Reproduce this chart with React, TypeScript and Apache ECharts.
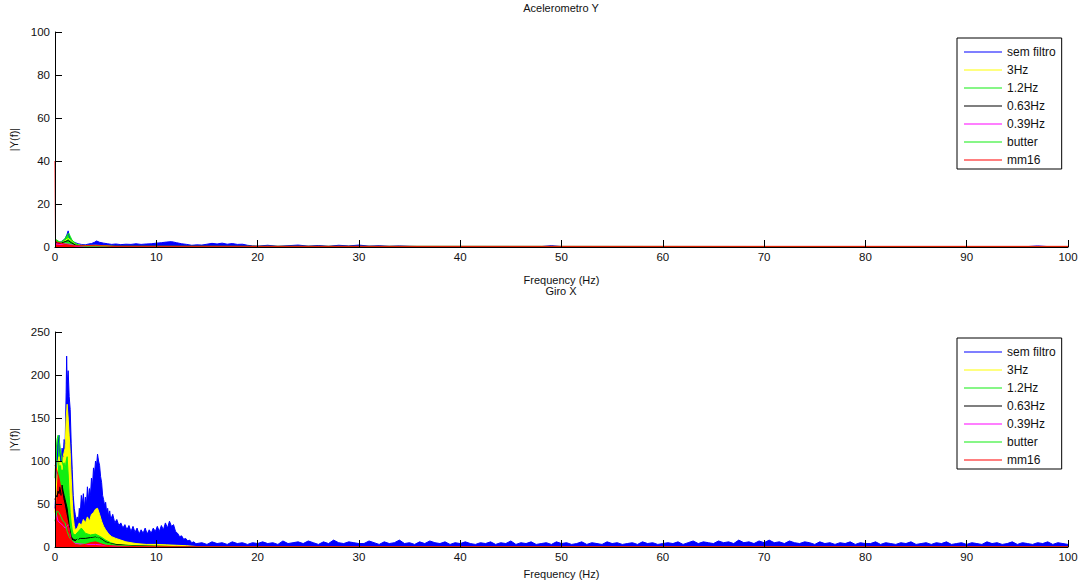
import React, { useEffect, useRef } from "react";
import * as echarts from "echarts";

type Pt = [number, number];

const seriesNames = ["sem filtro", "3Hz", "1.2Hz", "0.63Hz", "0.39Hz", "butter", "mm16"];
const seriesColors = ["#0000ff", "#ffff00", "#11ee11", "#000000", "#ff00ff", "#11ee11", "#ff0000"];

// ---------- Acelerometro Y ----------
const accBlue: Pt[] = [
  [0, 3], [0.2, 2.5], [0.4, 2], [0.6, 2.5], [0.8, 3], [1.0, 4], [1.1, 5], [1.2, 6], [1.3, 7.5], [1.4, 5],
  [1.5, 4], [1.6, 3.5], [1.8, 2.5], [2.0, 2], [2.3, 1.5], [2.6, 1.2], [3, 1], [3.3, 1.4], [3.6, 1.6], [3.9, 2.2],
  [4.1, 2.8], [4.4, 2.2], [4.8, 1.8], [5.2, 1.5], [5.6, 1.2], [6, 1.4], [6.5, 1.1], [7, 1.3], [7.5, 1.2], [8, 1.5],
  [8.5, 1.2], [9, 1.4], [9.5, 1.5], [10, 1.8], [10.5, 2], [11, 2.3], [11.5, 2.5], [12, 2], [12.5, 1.5], [13, 1.2],
  [13.5, 0.8], [14, 1], [14.5, 0.9], [15, 1.3], [15.5, 1.7], [16, 1.4], [16.5, 1.8], [17, 1.3], [17.5, 1.6], [18, 1.2],
  [18.5, 1.3], [19, 0.8], [19.5, 0.5], [20, 0.4], [21, 0.8], [22, 0.3], [23, 0.6], [24, 0.9], [25, 0.4], [26, 0.7],
  [27, 0.3], [28, 0.8], [29, 0.5], [30, 0.9], [31, 0.4], [32, 0.6], [33, 0.3], [34, 0.5], [35, 0.3], [36, 0.2],
  [48, 0.2], [49, 0.6], [50, 0.2], [96, 0.2], [97, 0.5], [98, 0.2], [100, 0.2],
];
const acc3Hz: Pt[] = [
  [0, 2.5], [0.5, 2], [1.0, 3], [1.3, 4], [1.6, 3], [2, 1.5], [2.5, 0.8], [3, 0.7], [4, 0.8], [5, 0.6], [5.5, 0.4], [6, 0.2], [100, 0.2],
];
const acc12Hz: Pt[] = [
  [0, 3.5], [0.2, 3.2], [0.4, 2.5], [0.6, 2.2], [0.8, 3], [1.0, 4], [1.2, 5.5], [1.35, 6.5], [1.5, 5], [1.7, 3],
  [2, 1.8], [2.3, 1], [2.6, 0.5], [3, 0.3], [100, 0.2],
];
const acc063Hz: Pt[] = [[0, 2], [0.5, 1.8], [1, 2.5], [1.3, 3], [1.6, 2], [2, 1], [2.5, 0.5], [3, 0.3], [100, 0.2]];
const acc039Hz: Pt[] = [[0, 1.5], [0.5, 1.2], [1, 1.5], [1.5, 1.2], [2, 0.5], [3, 0.2], [100, 0.2]];
const accButter: Pt[] = [[0, 3], [0.3, 2.5], [0.6, 2], [1, 3.5], [1.3, 4.5], [1.6, 3.5], [2, 1.5], [2.5, 0.6], [3, 0.3], [100, 0.2]];
const accMm16: Pt[] = [
  [0, 40], [0.05, 3], [0.2, 2.2], [0.4, 2], [0.6, 1.8], [0.8, 1.5], [1.0, 1.2], [1.5, 0.8], [2, 0.5], [3, 0.6],
  [4, 0.6], [5, 0.5], [5.5, 0.3], [100, 0.3],
];

// ---------- Giro X ----------
const giroBlueLow: Pt[] = [
  [0, 45], [0.1, 70], [0.2, 95], [0.3, 120], [0.4, 130], [0.5, 110], [0.6, 100], [0.7, 115], [0.8, 105], [0.9, 125],
  [1.0, 120], [1.1, 180], [1.15, 222], [1.2, 190], [1.3, 205], [1.4, 175], [1.5, 160], [1.6, 120], [1.7, 90], [1.8, 60],
  [1.9, 45], [2.0, 38], [2.1, 30], [2.2, 35], [2.3, 28], [2.4, 45], [2.5, 40], [2.6, 60], [2.7, 50], [2.8, 62],
  [2.9, 45], [3.0, 58], [3.1, 48], [3.2, 70], [3.3, 55], [3.4, 68], [3.5, 60], [3.6, 80], [3.7, 70], [3.8, 92],
  [3.9, 85], [4.0, 100], [4.1, 95], [4.2, 108], [4.3, 100], [4.4, 95], [4.5, 82], [4.6, 75], [4.7, 60], [4.8, 55],
  [4.9, 48], [5.0, 52], [5.1, 40], [5.2, 45], [5.3, 35], [5.4, 42], [5.5, 32], [5.7, 38], [5.9, 28], [6.1, 32],
  [6.3, 25], [6.5, 28], [6.7, 22], [6.9, 26], [7.1, 20], [7.3, 25], [7.5, 18], [7.7, 24], [7.9, 17], [8.1, 22],
  [8.3, 15], [8.5, 20], [8.7, 16], [8.9, 22], [9.1, 15], [9.3, 20], [9.5, 16], [9.7, 22], [9.9, 18], [10.1, 24],
  [10.3, 18], [10.5, 25], [10.7, 20], [10.9, 28], [11.1, 22], [11.3, 30], [11.5, 24], [11.7, 26], [11.9, 18], [12.1, 16],
  [12.3, 12], [12.5, 13], [12.7, 9], [12.9, 10], [13.1, 7], [13.3, 8], [13.5, 5], [13.7, 6], [13.9, 4],
];
// sem filtro, 14 Hz .. 100 Hz, one value per 0.5 Hz bin
const giroBlueTail = [
  4, 5, 3, 6, 4, 5, 3, 6, 4, 5, 3, 5, 4,
  6, 4, 5, 3, 7, 4, 5, 6, 4, 7, 5, 3, 6, 4, 8, 5, 4, 6, 5, 4,
  4, 7, 5, 3, 6, 4, 5, 8, 4, 5, 3, 6, 4, 7, 5, 4, 6, 3, 5, 4,
  6, 4, 3, 5, 4, 6, 3, 5, 4, 7, 3, 5, 4, 6, 3, 4, 5, 3, 6, 4,
  5, 3, 4, 6, 3, 5, 4, 3, 6, 4, 5, 3, 4, 5, 3, 6, 4, 5, 3, 4,
  5, 4, 6, 3, 5, 7, 4, 6, 5, 4, 7, 5, 6, 4, 8, 5, 6, 4, 7, 5,
  8, 5, 6, 4, 7, 5, 4, 6, 5, 3, 6, 4, 5, 3, 5, 4, 6, 3, 5, 4,
  4, 6, 3, 5, 4, 3, 5, 4, 6, 3, 4, 5, 3, 5, 4, 6, 3, 4, 5, 3,
  5, 4, 3, 6, 4, 5, 3, 4, 6, 3, 5, 4, 3, 5, 4, 6, 3, 5, 4, 3,
];
const giroTailStart = 14;
const giroTailStep = 0.5;

const giro3Hz: Pt[] = [
  [0, 40], [0.1, 60], [0.2, 85], [0.3, 100], [0.4, 105], [0.5, 95], [0.6, 100], [0.7, 90], [0.8, 105], [0.9, 110],
  [1.0, 115], [1.1, 150], [1.2, 166], [1.3, 150], [1.4, 130], [1.5, 110], [1.6, 80], [1.7, 55], [1.8, 35], [1.9, 25],
  [2.0, 20], [2.2, 22], [2.4, 28], [2.6, 25], [2.8, 32], [3.0, 28], [3.2, 35], [3.4, 30], [3.6, 38], [3.8, 40],
  [4.0, 44], [4.2, 45], [4.4, 38], [4.6, 30], [4.8, 24], [5.0, 20], [5.3, 15], [5.6, 12], [6.0, 10], [6.5, 8],
  [7, 6], [7.5, 5], [8, 4], [9, 3], [10, 3], [11, 2.5], [12, 2], [13, 1.5], [13.5, 1], [14, 0.5], [20, 0.3], [100, 0.3],
];
const giro12Hz: Pt[] = [
  [0, 80], [0.1, 110], [0.2, 125], [0.3, 130], [0.4, 128], [0.5, 115], [0.6, 108], [0.7, 100], [0.8, 95], [0.9, 98],
  [1.0, 90], [1.1, 100], [1.2, 105], [1.3, 85], [1.4, 60], [1.5, 40], [1.6, 28], [1.7, 20], [1.8, 15], [2.0, 14],
  [2.3, 18], [2.6, 22], [3.0, 16], [3.5, 14], [4.0, 15], [4.5, 12], [5.0, 8], [5.5, 5], [6, 3], [7, 2],
  [8, 1], [10, 0.5], [14, 0.3], [100, 0.2],
];
const giro063Hz: Pt[] = [
  [0, 55], [0.1, 60], [0.2, 58], [0.3, 65], [0.4, 62], [0.5, 70], [0.6, 60], [0.7, 72], [0.8, 65], [0.9, 60],
  [1.0, 55], [1.1, 50], [1.2, 45], [1.3, 35], [1.4, 25], [1.5, 18], [1.6, 12], [1.8, 9], [2.0, 8], [2.5, 10],
  [3, 10], [3.5, 11], [4, 12], [4.5, 10], [5, 6], [5.5, 4], [6, 3], [7, 2], [8, 1.5], [10, 1], [12, 0.5], [14, 0.3], [100, 0.2],
];
const giro039Hz: Pt[] = [
  [0, 46], [0.1, 40], [0.2, 35], [0.3, 30], [0.5, 28], [0.8, 25], [1.0, 22], [1.2, 24], [1.3, 26], [1.4, 20],
  [1.6, 8], [2, 4], [3, 3], [4, 3], [5, 2], [6, 1], [8, 0.5], [14, 0.2], [100, 0.2],
];
const giroButter: Pt[] = [
  [0, 30], [0.2, 42], [0.4, 40], [0.6, 35], [0.8, 30], [1.0, 28], [1.2, 18], [1.4, 12], [1.6, 8], [2, 6],
  [2.5, 12], [3, 14], [3.5, 12], [4, 13], [4.5, 9], [5, 5], [6, 2], [8, 1], [14, 0.3], [100, 0.2],
];
const giroMm16: Pt[] = [
  [0, 95], [0.1, 92], [0.2, 88], [0.3, 84], [0.4, 80], [0.5, 74], [0.6, 68], [0.7, 62], [0.8, 55], [0.9, 50],
  [1.0, 44], [1.1, 38], [1.2, 32], [1.3, 26], [1.4, 20], [1.5, 12], [1.6, 8], [1.8, 5], [2, 3], [2.5, 2],
  [3, 3], [3.5, 5], [4, 6], [4.5, 4], [5, 2], [6, 1], [8, 0.5], [14, 0.3], [100, 0.3],
];

const giroBlue: Pt[] = [
  ...giroBlueLow,
  ...giroBlueTail.map((v, i) => [giroTailStart + i * giroTailStep, v] as Pt),
];

const accData: Pt[][] = [accBlue, acc3Hz, acc12Hz, acc063Hz, acc039Hz, accButter, accMm16];
const giroData: Pt[][] = [giroBlue, giro3Hz, giro12Hz, giro063Hz, giro039Hz, giroButter, giroMm16];

const FONT = "Liberation Sans, Arial, sans-serif";

export default function App() {
  const ref = useRef<HTMLDivElement>(null);
  useEffect(() => {
    if (!ref.current) return;
    const chart = echarts.init(ref.current, undefined, { renderer: "svg" });
    const gridTops = [32, 332];
    const yMax = [100, 250];
    const yInt = [20, 50];
    const titles = ["Acelerometro Y", "Giro X"];
    const xNameGap = [27, 21];

    const xAxes = [0, 1].map((i) => ({
      type: "value",
      gridIndex: i,
      min: 0,
      max: 100,
      interval: 10,
      z: 5,
      name: "Frequency (Hz)",
      nameLocation: "middle",
      nameGap: xNameGap[i],
      nameTextStyle: { fontFamily: FONT, fontSize: 11, color: "#111" },
      axisLine: { lineStyle: { color: "#000", width: 1 } },
      axisTick: { inside: true, length: 7, lineStyle: { color: "#000" } },
      axisLabel: { fontFamily: FONT, fontSize: 11.5, color: "#111", margin: 4 },
      splitLine: { show: false },
    }));
    const yAxes = [0, 1].map((i) => ({
      type: "value",
      gridIndex: i,
      min: 0,
      max: yMax[i],
      interval: yInt[i],
      z: 5,
      name: "|Y(f)|",
      nameLocation: "middle",
      nameGap: 36,
      nameTextStyle: { fontFamily: FONT, fontSize: 11, color: "#111" },
      axisLine: { show: true, lineStyle: { color: "#000", width: 1 } },
      axisTick: { show: true, inside: true, length: 7, lineStyle: { color: "#000" } },
      axisLabel: { fontFamily: FONT, fontSize: 11.5, color: "#111", margin: 5 },
      splitLine: { show: false },
    }));

    const series: any[] = [];
    [accData, giroData].forEach((set, gi) => {
      set.forEach((data, si) => {
        const color = seriesColors[si];
        series.push({
          type: "line",
          name: seriesNames[si],
          xAxisIndex: gi,
          yAxisIndex: gi,
          data,
          symbol: "none",
          showSymbol: false,
          silent: true,
          lineStyle: { width: 1, color },
          itemStyle: { color },
          areaStyle: { color, opacity: 1 },
        });
      });
    });

    const legends = gridTops.map((t, i) => ({
      show: true,
      orient: "vertical",
      left: 957,
      top: i === 0 ? 38 : 338,
      data: seriesNames,
      selectedMode: false,
      icon: "rect",
      itemWidth: 38,
      itemHeight: 1.2,
      itemGap: 6,
      padding: [8, 6, 3, 7],
      borderColor: "#000",
      borderWidth: 1,
      backgroundColor: "#fff",
      textStyle: { fontFamily: FONT, fontSize: 12, lineHeight: 12, color: "#111" },
    }));

    chart.setOption({
      animation: false,
      backgroundColor: "#fff",
      title: titles.map((t, i) => ({
        text: t,
        left: 561,
        top: i === 0 ? 2 : 285,
        padding: 0,
        textAlign: "center",
        textStyle: { fontFamily: FONT, fontSize: 11, fontWeight: "normal", color: "#111" },
      })),
      grid: gridTops.map((t) => ({ left: 55, right: 18, top: t, height: 215 })),
      xAxis: xAxes,
      yAxis: yAxes,
      legend: legends,
      series,
    });
    return () => chart.dispose();
  }, []);
  return (
    <div
      ref={ref}
      style={{ position: "fixed", left: 0, top: 0, width: 1086, height: 582, background: "#fff" }}
    />
  );
}
